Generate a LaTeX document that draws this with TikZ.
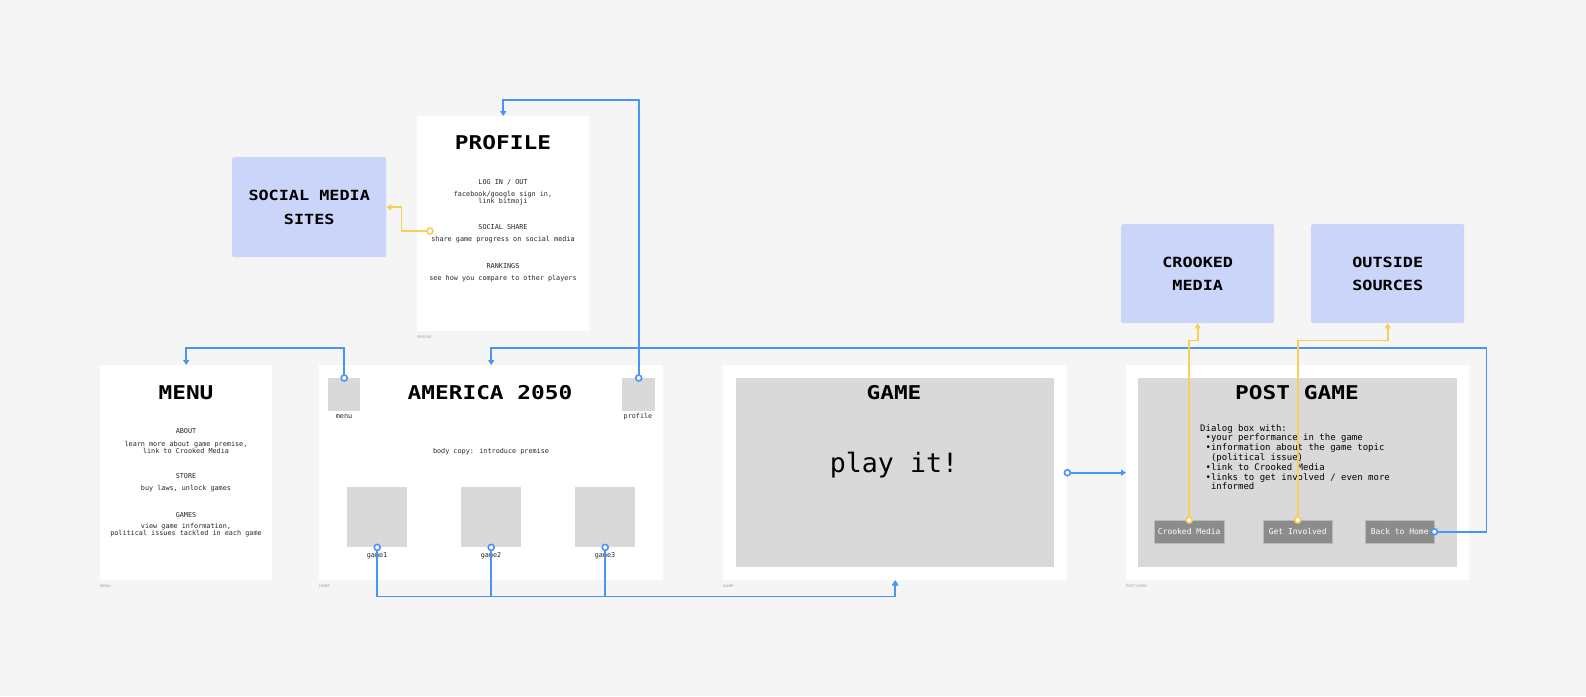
\documentclass[tikz,border=0pt]{standalone}
\usepackage{fontspec}
\setmainfont{DejaVu Sans Mono}
\newfontfamily\pixfont{DejaVu Sans Mono}[FakeStretch=1.2]
\newfontfamily\capfont{DejaVu Sans}
\usetikzlibrary{arrows.meta,positioning,calc}
\definecolor{canvasbg}{HTML}{F5F5F5}
\definecolor{boxgray}{HTML}{D9D9D9}
\definecolor{btngray}{HTML}{8C8C8C}
\definecolor{lavender}{HTML}{CBD5F9}
\definecolor{linkblue}{HTML}{4B94F7}
\definecolor{linkyellow}{HTML}{F8CE55}
\tikzset{
  wireframe/.style = {fill=white, inner sep=0pt, anchor=north west},
  placeholder/.style = {fill=boxgray, inner sep=0pt, anchor=north west},
  sitebox/.style = {fill=lavender, rounded corners=1.5pt, inner sep=0pt, anchor=north west, align=center,
    font=\pixfont\bfseries\fontsize{14}{23.5}\selectfont},
  uibutton/.style = {fill=btngray, draw=boxgray!60!btngray, inner sep=0pt, anchor=north west, text=white,
    font=\fontsize{8}{9}\selectfont},
  screentitle/.style = {font=\pixfont\bfseries\fontsize{19}{20}\selectfont},
  bodytext/.style = {font=\fontsize{6.8}{7}\selectfont, align=center, text=black!85},
  framecap/.style = {font=\capfont\fontsize{3.5}{4}\selectfont, text=black!40, anchor=west, inner sep=0pt},
  navlink/.style = {-{Triangle[length=5pt,width=6pt]}, linkblue, line width=1.8pt},
  sharelink/.style = {-{Triangle[length=5pt,width=6pt]}, linkyellow, line width=1.8pt},
  bluedot/.style = {draw=linkblue, fill=white, line width=1.6pt},
  yellowdot/.style = {draw=linkyellow, fill=white, line width=1.6pt},
}

\begin{document}
\begin{tikzpicture}[x=1pt, y=-1pt]

\fill[canvasbg] (0,0) rectangle (1586,696);
\useasboundingbox (0,0) rectangle (1586,696);

% menu screen
\node[wireframe, minimum width=172pt, minimum height=215pt] (menu) at (100,365) {};
\node[screentitle] (menutitle) at (186,393) {MENU};
\node[bodytext] (about) at (186,431) {ABOUT};
\node[bodytext] (abouttxt) at (186,447) {learn more about game premise,\\link to Crooked Media};
\node[bodytext] (store) at (186,476) {STORE};
\node[bodytext] (storetxt) at (186,489) {buy laws, unlock games};
\node[bodytext] (games) at (186,515) {GAMES};
\node[bodytext] (gamestxt) at (186,530) {view game information,\\political issues tackled in each game};
\node[framecap] (menucap) at (100,586) {MENU};

% home screen
\node[wireframe, minimum width=344pt, minimum height=215pt] (home) at (319,365) {};
\node[screentitle] (hometitle) at (490,393) {AMERICA 2050};
\node[placeholder, minimum width=32pt, minimum height=33pt] (menubtn) at (328,378) {};
\node[placeholder, minimum width=33pt, minimum height=33pt] (profbtn) at (622,378) {};
\node[bodytext] (menulbl) at (344,417) {menu};
\node[bodytext] (proflbl) at (638,417) {profile};
\node[bodytext] (bodycopy) at (491,452) {body copy: introduce premise};
\node[placeholder, minimum width=60pt, minimum height=60pt] (game1) at (347,487) {};
\node[placeholder, minimum width=60pt, minimum height=60pt] (game2) at (461,487) {};
\node[placeholder, minimum width=60pt, minimum height=60pt] (game3) at (575,487) {};
\node[bodytext] (g1lbl) at (377,556) {game1};
\node[bodytext] (g2lbl) at (491,556) {game2};
\node[bodytext] (g3lbl) at (605,556) {game3};
\node[framecap] (homecap) at (319,586) {HOME};

% profile screen
\node[wireframe, minimum width=172pt, minimum height=215pt] (profile) at (417,116) {};
\node[screentitle] (proftitle) at (503,143) {PROFILE};
\node[bodytext] (login) at (503,182) {LOG IN / OUT};
\node[bodytext] (logintxt) at (503,198) {facebook/google sign in,\\link bitmoji};
\node[bodytext] (socshare) at (503,227) {SOCIAL SHARE};
\node[bodytext] (sharetxt) at (503,240) {share game progress on social media};
\node[bodytext] (rank) at (503,266) {RANKINGS};
\node[bodytext] (ranktxt) at (503,279) {see how you compare to other players};
\node[framecap] (profcap) at (417,337) {PROFILE};
\coordinate (share) at (430,231);

% game screen
\node[wireframe, minimum width=344pt, minimum height=215pt] (game) at (723,365) {};
\node[placeholder, minimum width=318pt, minimum height=189pt] (gamescr) at (736,378) {};
\node[screentitle] (gametitle) at (894,393) {GAME};
\node[font=\fontsize{26.6}{28}\selectfont] (playit) at (894,465) {play it!};
\node[framecap] (gamecap) at (723,586) {GAME};

% post game screen
\node[wireframe, minimum width=343pt, minimum height=215pt] (post) at (1126,365) {};
\node[placeholder, minimum width=319pt, minimum height=189pt] (postscr) at (1138,378) {};
\node[screentitle] (posttitle) at (1297,393) {POST GAME};
\node[anchor=north west, inner sep=0pt, align=left, font=\fontsize{9}{9.8}\selectfont] (dialog) at (1200,424)
  {Dialog box with:\\~•your performance in the game\\~•information about the game topic\\~~(political issue)\\
   ~•link to Crooked Media\\~•links to get involved / even more\\~~informed};
\node[uibutton, minimum width=70pt, minimum height=23pt] (cmbtn) at (1154,520) {Crooked Media};
\node[uibutton, minimum width=69pt, minimum height=23pt] (gibtn) at (1263,520) {Get Involved};
\node[uibutton, minimum width=69pt, minimum height=23pt] (homebtn) at (1365,520) {Back to Home};
\node[framecap] (postcap) at (1126,586) {POST GAME};

% outside sites
\node[sitebox, minimum width=154pt, minimum height=100pt] (social) at (232,157) {SOCIAL MEDIA\\SITES};
\node[sitebox, minimum width=153pt, minimum height=99pt] (crooked) at (1121,224) {CROOKED\\MEDIA};
\node[sitebox, minimum width=153pt, minimum height=99pt] (outside) at (1311,224) {OUTSIDE\\SOURCES};

% navigation links
\draw[navlink] (menubtn.north) |- ([yshift=17pt]menu.north) -- (menu.north);
\draw[navlink] (profbtn.north) |- ([yshift=16pt]profile.north) -- (profile.north);
\draw[navlink] (game1.south) |- ([yshift=-16pt]game.south) -- (game.south);
\draw[navlink] (game2.south) |- ([yshift=-16pt]game.south) -- (game.south);
\draw[navlink] (game3.south) |- ([yshift=-16pt]game.south) -- (game.south);
\draw[navlink] (game.east) -- (post.west);
\draw[navlink] (homebtn.east) -- ++(52,0) |- ([yshift=17pt]home.north) -- (home.north);
\foreach \p in {menubtn.north, profbtn.north, game1.south, game2.south, game3.south, game.east, homebtn.east}
  \draw[bluedot] (\p) circle (3pt);

% outside links
\draw[sharelink] (share) -| ([xshift=15pt]social.east) -- (social.east);
\draw[sharelink] (cmbtn.north) |- ([yshift=-17pt]crooked.south) -- (crooked.south);
\draw[sharelink] (gibtn.north) |- ([yshift=-17pt]outside.south) -- (outside.south);
\foreach \p in {share, cmbtn.north, gibtn.north}
  \draw[yellowdot] (\p) circle (3pt);

\end{tikzpicture}
\end{document}
